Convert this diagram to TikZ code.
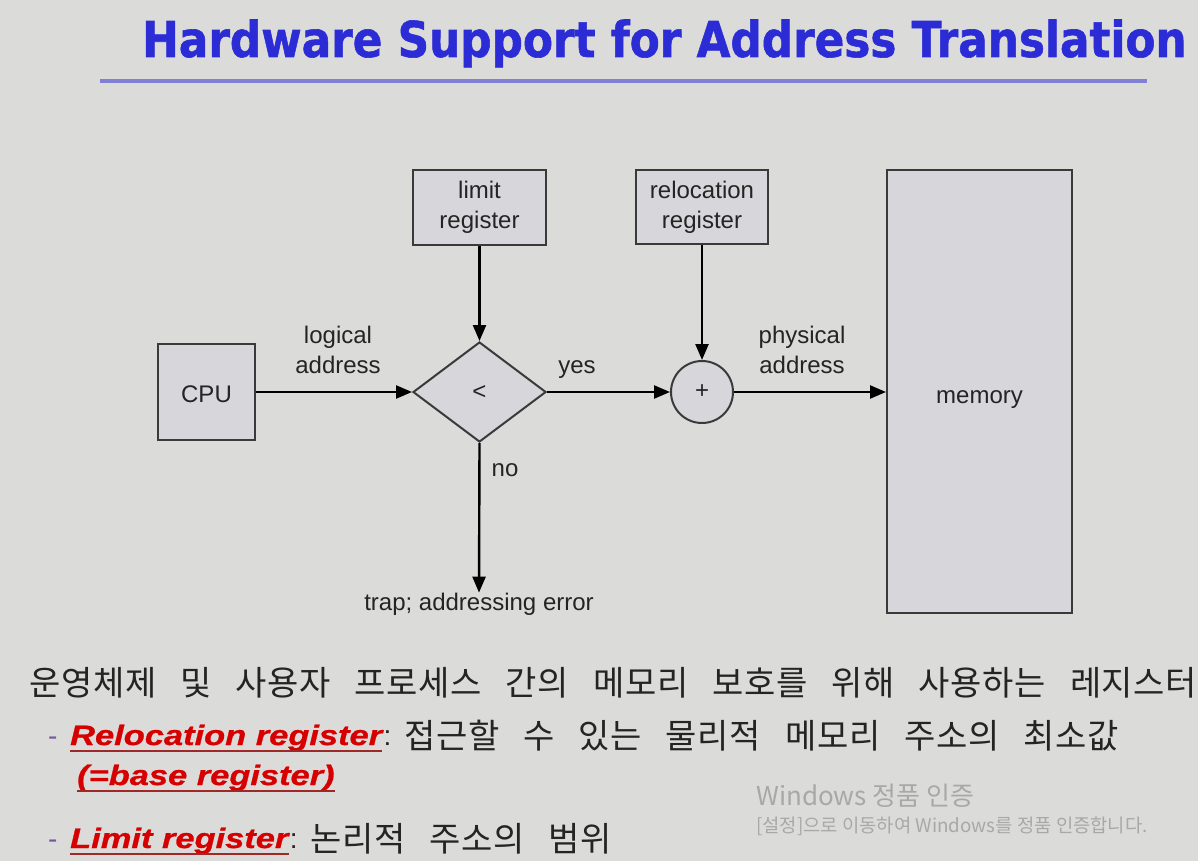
\documentclass[tikz,border=0pt]{standalone}
\usepackage{fontspec}
\usepackage{graphicx}
\setmainfont{Liberation Sans}
\newfontfamily\krfont{Noto Sans CJK KR}
% Korean body text: slightly spaced glyphs, wide word gaps
\newfontfamily\krwide{Noto Sans CJK KR}[LetterSpace=2]
\newcommand\krbody{\krwide\fontsize{34}{40}\selectfont\spaceskip 24pt\relax}
\newfontfamily\headfont{DejaVu Sans}[BoldFeatures={FakeBold=1.2}]
\newfontfamily\keyfont{Liberation Sans}[BoldItalicFeatures={FakeBold=0.8}]
\usetikzlibrary{arrows.meta,shapes.geometric}

\definecolor{slidebg}{RGB}{219,219,217}
\definecolor{titleblue}{RGB}{44,44,214}
\definecolor{barblue}{RGB}{128,128,212}
\definecolor{boxfill}{RGB}{214,214,219}
\definecolor{boxline}{RGB}{58,58,58}
\definecolor{inktext}{RGB}{36,36,36}
\definecolor{keyred}{RGB}{214,0,0}
\definecolor{ulred}{RGB}{160,40,40}
\definecolor{dashpurple}{RGB}{118,86,160}
\definecolor{wmgray}{RGB}{168,168,168}

\begin{document}
\begin{tikzpicture}[x=1pt,y=-1pt,
  block/.style={draw=boxline, line width=2pt, fill=boxfill, text=inktext,
    font=\fontsize{24}{30}\selectfont, align=center, inner sep=0pt},
  lbl/.style={text=inktext, font=\fontsize{24}{30}\selectfont, align=center, inner sep=0pt},
  flow/.style={line width=2.4pt, draw=black, -{Triangle[length=16pt,width=13pt]}},
  txt/.style={inner sep=0pt, anchor=base west},
  latin/.style={font=\fontsize{28}{32}\selectfont},
  keyterm/.style={txt, text=keyred, font=\keyfont\fontsize{28}{32}\selectfont\bfseries\itshape},
  bullet/.style={txt, text=dashpurple, font=\fontsize{28}{32}\selectfont},
  hangul/.style={txt, text=inktext},
  keyline/.style={draw=ulred, line width=2pt},
]
% slide background
\fill[slidebg] (0,0) rectangle (1198,861);
\useasboundingbox (0,0) rectangle (1198,861);

% heading and rule
\node[txt, text=titleblue] (title) at (142,57)
  {\resizebox{1044pt}{37.5pt}{\headfont\bfseries Hardware Support for Address Translation}};
\coordinate (barL) at (100,81);
\coordinate (barR) at (1147,81);
\draw[barblue, line width=4.5pt] (barL) -- (barR);

% address translation hardware
\node[block, minimum width=97pt, minimum height=96pt] (cpu) at (206.5,392)
  {\raisebox{-10.5pt}[0pt][0pt]{CPU}};
\node[block, minimum width=133pt, minimum height=75pt] (limit) at (479.5,207.5) {limit\\register};
\node[block, minimum width=132pt, minimum height=74pt] (reloc) at (702,207) {relocation\\register};
\node[block, minimum width=185pt, minimum height=443pt] (mem) at (979.5,391.5)
  {\raisebox{-12pt}[0pt][0pt]{memory}};
\node[block, diamond, minimum width=133pt, minimum height=100pt] (cmp) at (479.5,392) {<};
\node[block, circle, minimum size=62pt] (add) at (702,392) {+};
\node[lbl] (trap) at (479,604) {trap; addressing error};

\draw[flow] (cpu.east) -- (cmp.west);
\draw[flow] (limit.south) -- (cmp.north);
\draw[flow] (cmp.east) -- (add.west);
\draw[flow] (reloc.south) -- (add.north);
\draw[flow] (add.east) -- (add.east -| mem.west);
\draw[flow] (cmp.south) -- (trap.north);

\node[lbl] (la) at (338,350) {logical\\address};
\node[lbl] (yes) at (577,370) {yes};
\node[lbl] (no) at (505,470) {no};
\node[lbl] (pa) at (802,350) {physical\\address};

% explanation
\node[hangul] (intro) at (29,695)
  {\krbody 운영체제 및 사용자 프로세스 간의 메모리 보호를 위해 사용하는 레지스터};

\node[bullet] (d1) at (48,745) {-};
\node[keyterm] (rr) at (70,745) {\scalebox{1.23}[1]{Relocation register}};
\draw[keyline] ([yshift=-5.5pt]rr.base west) -- ([yshift=-5.5pt]rr.base east);
\node[txt, latin, text=inktext, xshift=1pt] (c1) at (rr.base east) {:};
\node[hangul] (rdesc) at (404,748) {\krbody 접근할 수 있는 물리적 메모리 주소의 최소값};

\node[keyterm] (base) at (77,785) {\scalebox{1.23}[1]{(=base register)}};
\draw[keyline] ([yshift=-5.5pt]base.base west) -- ([yshift=-5.5pt]base.base east);

\node[bullet] (d2) at (48,848) {-};
\node[keyterm] (lr) at (70,848) {\scalebox{1.23}[1]{Limit register}};
\draw[keyline] ([yshift=-5.5pt]lr.base west) -- ([yshift=-5.5pt]lr.base east);
\node[txt, latin, text=inktext, xshift=1pt] (c2) at (lr.base east) {:};
\node[hangul] (ldesc) at (310,851) {\krbody 논리적 주소의 범위};

% activation notice
\node[txt, text=wmgray, font=\krfont\fontsize{26}{30}\selectfont] (wm1) at (756,805) {Windows 정품 인증};
\node[txt, text=wmgray, font=\krfont\fontsize{18.8}{22}\selectfont] (wm2) at (756,832) {[설정]으로 이동하여 Windows를 정품 인증합니다.};
\end{tikzpicture}
\end{document}
